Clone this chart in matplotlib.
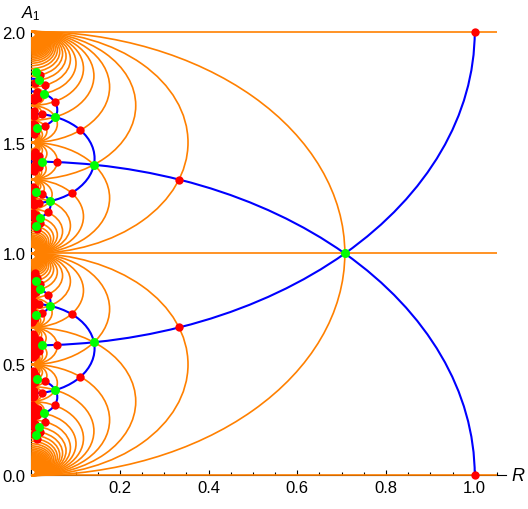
import numpy as np
import matplotlib.pyplot as plt
from matplotlib.patches import Arc, Rectangle
from matplotlib.ticker import MultipleLocator
from math import gcd, floor, ceil

plt.rcParams['font.family'] = ['Liberation Sans', 'DejaVu Sans']
plt.rcParams['mathtext.fontset'] = 'custom'
plt.rcParams['mathtext.it'] = 'Liberation Sans:italic'
plt.rcParams['mathtext.rm'] = 'Liberation Sans'

# values, in plot coordinates (R, A)
red_seed = (1.0, 0.0)                  # red dot where the big blue arc meets A = 0
green_seed = (1 / np.sqrt(2), 1.0)     # green dot where the two big blue arcs cross (R ~ 0.707)
blue_seed = [(-np.sqrt(2), np.sqrt(2))]                    # A-ends of the big blue arc (~1.414)
orange_seed = [(0.0, np.inf), (1.0, np.inf), (0.0, 2.0)]   # A-ends of the orange seed curves

orange_min = 1 / 70    # smallest orange half width (in A) still drawn
blue_min = 0.03        # smallest blue half width (in A) still drawn
dot_steps = 6          # how many unit shifts the dots are copied with
red_min = 0.0          # lowest R of a red dot
green_min = 0.0105     # lowest R of a green dot

x_ticks = [0.2, 0.4, 0.6, 0.8, 1.0]
y_ticks = [0.0, 0.5, 1.0, 1.5, 2.0]
R_MAX = 1.05

ORANGE, BLUE, RED, GREEN = '#ff8000', '#0000ff', '#ff0000', '#00ff00'


# the (R, A) plane is the upper half plane tau = A/2 + i R/sqrt(2),
# everything is copied around by Gamma0(2) and tau -> -1/(2 tau)
def gamma0_2(cmax=80, dmax=81):
    mats = [(1, 0, 0, 1)]
    for c in range(2, cmax + 1, 2):
        for d in range(-dmax, dmax + 1, 2):
            if gcd(c, d) != 1:
                continue
            a = pow(d, -1, c)
            mats.append((a, (a * d - 1) // c, c, d))
    return mats


def act(m, z):
    a, b, c, d = m
    if z == np.inf:
        return a / c if c else np.inf
    den = c * z + d
    if abs(den) < 1e-12:
        return np.inf
    return (a * z + b) / den


def geodesics(seeds, min_half, mats):
    arcs, lines = set(), set()
    for m in mats:
        for e1, e2 in seeds:
            p, q = act(m, e1 / 2), act(m, e2 / 2)
            if np.isinf(p) or np.isinf(q):
                x = q if np.isinf(p) else p
                x = x - floor(x + 1e-9)
                lines.add(abs(round(2 * x, 6)))
                if abs(x) < 1e-9:
                    lines.add(2.0)
                continue
            lo, hi = min(p, q), max(p, q)
            if hi - lo < min_half:
                continue
            for k in range(floor(-hi), ceil(1 - lo) + 1):
                if lo + k < 1 - 1e-9 and hi + k > 1e-9:
                    arcs.add((round(2 * (lo + k), 6), round(2 * (hi + k), 6)))
    return sorted(arcs), sorted(lines)


def orbit(seed, steps, min_r):
    # shifts tau -> tau +- 1 cost one step, the flip tau -> -1/(2 tau) is free
    def key(z):
        return (round(z.real, 9), round(z.imag, 9))

    def flip(z):
        return -1 / (2 * z)

    z0 = complex(seed[1] / 2, seed[0] / np.sqrt(2))
    seen = {key(z0): z0}
    front = [z0]
    w = flip(z0)
    if key(w) not in seen:
        seen[key(w)] = w
        front.append(w)
    for _ in range(steps):
        new = []
        for z in front:
            for w in (z + 1, z - 1):
                for v in (w, flip(w)):
                    if key(v) not in seen:
                        seen[key(v)] = v
                        new.append(v)
        front = new
    pts = [z for z in seen.values()
           if -1e-9 <= z.real <= 1 + 1e-9 and z.imag * np.sqrt(2) >= min_r]
    R = np.array([z.imag * np.sqrt(2) for z in pts])
    A = np.array([z.real * 2 for z in pts])
    return R, A


def draw_arcs(ax, arcs, color, lw, z, clip):
    for a0, a1 in arcs:
        h = (a1 - a0) / 2
        arc = Arc((0, (a0 + a1) / 2), 2 * h / np.sqrt(2), 2 * h,
                  theta1=-90, theta2=90, color=color, lw=lw, zorder=z)
        ax.add_patch(arc)
        arc.set_clip_path(clip)


mats = gamma0_2()
orange_arcs, orange_lines = geodesics(orange_seed, orange_min, mats)
blue_arcs, _ = geodesics(blue_seed, blue_min, mats)
red_R, red_A = orbit(red_seed, dot_steps, red_min)
green_R, green_A = orbit(green_seed, dot_steps, green_min)

fig = plt.figure(figsize=(5.28, 5.10), dpi=100)
ax = fig.add_axes([31.2 / 528, 28 / 510, 476.8 / 528, 455 / 510])
ax.set_xlim(0, 1.075)
ax.set_ylim(-0.025, 2.025)

clip = Rectangle((0, -0.005), 1.075, 2.01, transform=ax.transData)

draw_arcs(ax, orange_arcs, ORANGE, 1.2, 3, clip)
ax.hlines(orange_lines, 0, R_MAX, colors=ORANGE, lw=1.2, zorder=3)
draw_arcs(ax, blue_arcs, BLUE, 1.5, 4, clip)
ax.scatter(red_R, red_A, s=36, color=RED, lw=0, zorder=5)
ax.scatter(green_R, green_A, s=42, color=GREEN, lw=0, zorder=6)

for s in ['top', 'right']:
    ax.spines[s].set_visible(False)
ax.spines['bottom'].set_position(('data', 0))
ax.spines['left'].set_bounds(0, 2.0)
ax.spines['bottom'].set_bounds(0, 1.07)
ax.set_xticks(x_ticks)
ax.set_xticklabels(['%.1f' % t for t in x_ticks])
ax.set_yticks(y_ticks)
ax.set_yticklabels(['%.1f' % t for t in y_ticks])
ax.xaxis.set_minor_locator(MultipleLocator(0.05))
ax.yaxis.set_minor_locator(MultipleLocator(0.1))
ax.tick_params(which='both', direction='in', labelsize=12, width=0.8)
ax.tick_params(which='major', length=3.5)
ax.tick_params(which='minor', length=2)
ax.tick_params(axis='x', pad=3)
ax.tick_params(axis='y', pad=4)

ax.annotate('$A_1$', xy=(0, 2.0), xytext=(0, 7), textcoords='offset points',
            ha='center', va='bottom', fontsize=12)
ax.annotate('$R$', xy=(1, 0), xycoords=('axes fraction', 'data'), xytext=(2, 0),
            textcoords='offset points', ha='left', va='center', fontsize=13)

fig.savefig('out.png', dpi=100)
